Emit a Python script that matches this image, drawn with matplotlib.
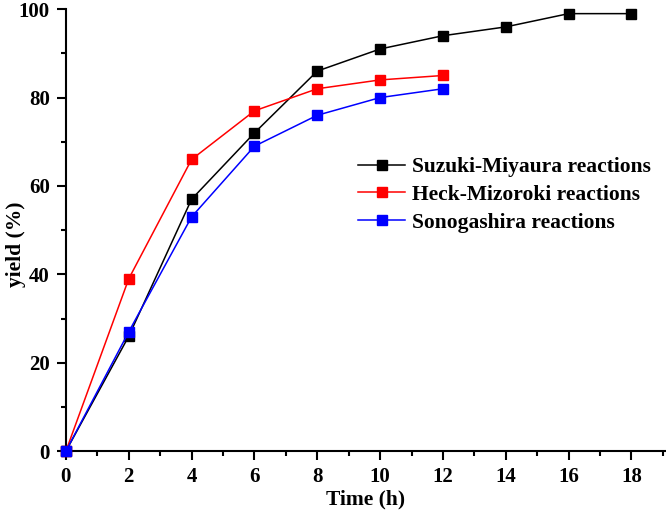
import matplotlib
matplotlib.use("Agg")
import matplotlib.pyplot as plt
from matplotlib.ticker import MultipleLocator

plt.rcParams["font.family"] = "Liberation Serif"
plt.rcParams["font.weight"] = "bold"

# data
time_suzuki = [0, 2, 4, 6, 8, 10, 12, 14, 16, 18]
yield_suzuki = [0, 26, 57, 72, 86, 91, 94, 96, 99, 99]
time_heck = [0, 2, 4, 6, 8, 10, 12]
yield_heck = [0, 39, 66, 77, 82, 84, 85]
time_sono = [0, 2, 4, 6, 8, 10, 12]
yield_sono = [0, 27, 53, 69, 76, 80, 82]

fig = plt.figure(figsize=(6.66, 5.12), dpi=100)
ax = fig.add_axes([0.099, 0.119, 0.901, 0.863])

series = [
    (time_suzuki, yield_suzuki, "black", "Suzuki-Miyaura reactions"),
    (time_heck, yield_heck, "red", "Heck-Mizoroki reactions"),
    (time_sono, yield_sono, "blue", "Sonogashira reactions"),
]
for t, y, c, lab in series:
    ax.plot(t, y, "-s", color=c, lw=1.1, ms=6.5, mec=c, mfc=c,
            label=lab, clip_on=False, zorder=3)

ax.set_xlim(0, 19.1)
ax.set_ylim(0, 100)
ax.xaxis.set_major_locator(MultipleLocator(2))
ax.xaxis.set_minor_locator(MultipleLocator(1))
ax.yaxis.set_major_locator(MultipleLocator(20))
ax.yaxis.set_minor_locator(MultipleLocator(10))

for s in ("top", "right"):
    ax.spines[s].set_visible(False)
for s in ("left", "bottom"):
    ax.spines[s].set_linewidth(1.5)
ax.tick_params(which="major", direction="out", length=6.5, width=1.5,
               labelsize=15, pad=5)
ax.tick_params(which="minor", direction="out", length=3.5, width=1.5)

ax.set_xlabel("Time (h)", fontsize=15.5, fontweight="bold", labelpad=2)
ax.set_ylabel("yield (%)", fontsize=15.5, fontweight="bold")
ax.yaxis.set_label_coords(-0.066, 0.468)

ax.legend(loc="upper left", bbox_to_anchor=(0.473, 0.685), frameon=False,
          prop={"size": 15.5, "weight": "bold"}, handlelength=2.15,
          labelspacing=0.36, handletextpad=0.35, borderaxespad=0)

fig.savefig("out.png", dpi=100)
